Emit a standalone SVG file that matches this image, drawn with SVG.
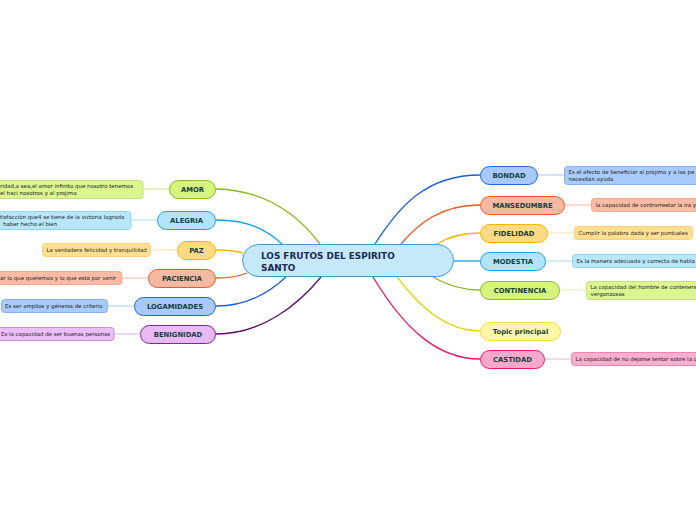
<svg xmlns="http://www.w3.org/2000/svg" width="696" height="520" viewBox="0 0 696 520">
<style>
.n text{font-family:"DejaVu Sans",Verdana,sans-serif;font-weight:bold;font-size:6.8px;fill:#123f3c;text-anchor:middle}
.d text{font-family:"DejaVu Sans",Verdana,sans-serif;font-size:5.45px;fill:#222222}
.c path{fill:none;stroke-width:1.3}
.c line{stroke-width:1}
.lime rect{fill:#d6f27f;stroke:#8cbf1a}
.sky rect{fill:#b2e4f9;stroke:#1aa3e0}
.gold rect{fill:#ffda85;stroke:#f7b500}
.coral rect{fill:#f8b9a3;stroke:#f05a28}
.blue rect{fill:#a7c9fb;stroke:#1f66d8}
.purp rect{fill:#e9b9f6;stroke:#7a2b93}
.pink rect{fill:#f8a9cb;stroke:#e81d6d}
.yel rect{fill:#fff6a8;stroke:#efdd3c}
.n rect{stroke-width:1}
.d rect{stroke-width:0.8}
.lime.d rect{fill:#dbf590;stroke:#b8de5e}
.sky.d rect{fill:#b8e6fa;stroke:#7fcdf0}
.gold.d rect{fill:#ffdf91;stroke:#fbc95a}
.coral.d rect{fill:#f9bba6;stroke:#f39b7d}
.blue.d rect{fill:#a9cbfb;stroke:#74a5ee}
.purp.d rect{fill:#ebbef7;stroke:#b77ccc}
.pink.d rect{fill:#f9afcf;stroke:#ee6fa3}
</style>
<rect width="696" height="520" fill="#ffffff"/>
<g id="connectors" class="c">
<path d="M216,189 C262,190 296,212 320,244" stroke="#84b819"/>
<path d="M216,220 C247,220 266,229 282,244" stroke="#12a1e3"/>
<path d="M216,250 C228,250 236,251 243,253" stroke="#f7b200"/>
<path d="M216,278 C230,278 240,276 247,273" stroke="#f0541e"/>
<path d="M216,306 C248,306 270,292 286,277" stroke="#1a5fd6"/>
<path d="M216,334 C262,334 298,305 321,277" stroke="#5c0f70"/>
<path d="M480,175 C425,175 398,208 375,244" stroke="#1a5fd6"/>
<path d="M480,205 C440,205 418,224 401,244" stroke="#f0541e"/>
<path d="M480,233 C462,233 448,237 437,244" stroke="#f7b200"/>
<path d="M454,261 L480,261" stroke="#12a1e3"/>
<path d="M433,277 C448,286 462,290 480,290" stroke="#84b819"/>
<path d="M397,277 C422,310 448,331 480,331" stroke="#e6d20a"/>
<path d="M373,277 C405,330 438,359 480,359" stroke="#f0106b"/>
<line x1="143" y1="189" x2="169" y2="189" stroke="#c8e58a"/>
<line x1="131" y1="220" x2="157" y2="220" stroke="#a8dcf3"/>
<line x1="151" y1="250" x2="177" y2="250" stroke="#fde2a6"/>
<line x1="122" y1="278" x2="148" y2="278" stroke="#f7b7a1"/>
<line x1="108" y1="306" x2="134" y2="306" stroke="#a9c7f5"/>
<line x1="114" y1="334" x2="140" y2="334" stroke="#d6b0e2"/>
<line x1="538" y1="175" x2="564" y2="175" stroke="#a9c7f5"/>
<line x1="565" y1="205" x2="591" y2="205" stroke="#f7b7a1"/>
<line x1="548" y1="233" x2="574" y2="233" stroke="#fde2a6"/>
<line x1="546" y1="261" x2="572" y2="261" stroke="#a8dcf3"/>
<line x1="560" y1="290" x2="586" y2="290" stroke="#d6edaa"/>
<line x1="545" y1="359" x2="571" y2="359" stroke="#f7b3cf"/>
</g>
<g id="central">
<rect x="242.5" y="244.5" width="211" height="32" rx="16" fill="#c5e9f9" stroke="#3d9bd7" stroke-width="1"/>
<text x="261" y="259" font-family="DejaVu Sans,Verdana,sans-serif" font-weight="bold" font-size="8.9" fill="#1b2a52">LOS FRUTOS DEL ESPIRITO</text>
<text x="261" y="270.5" font-family="DejaVu Sans,Verdana,sans-serif" font-weight="bold" font-size="8.9" fill="#1b2a52">SANTO</text>
</g>
<g id="amor" class="n lime"><rect x="169.5" y="180.5" width="46" height="18" rx="9"/><text x="192.5" y="192">AMOR</text></g>
<g id="alegria" class="n sky"><rect x="157.5" y="211.5" width="58" height="18" rx="9"/><text x="186.5" y="223">ALEGRIA</text></g>
<g id="paz" class="n gold"><rect x="177.5" y="241.5" width="38" height="18" rx="9"/><text x="196.5" y="253">PAZ</text></g>
<g id="paciencia" class="n coral"><rect x="148.5" y="269.5" width="67" height="18" rx="9"/><text x="182" y="281">PACIENCIA</text></g>
<g id="logamidades" class="n blue"><rect x="134.5" y="297.5" width="81" height="18" rx="9"/><text x="175" y="309">LOGAMIDADES</text></g>
<g id="benignidad" class="n purp"><rect x="140.5" y="325.5" width="75" height="18" rx="9"/><text x="178" y="337">BENIGNIDAD</text></g>
<g id="bondad" class="n blue"><rect x="480.5" y="166.5" width="57" height="18" rx="9"/><text x="509" y="178">BONDAD</text></g>
<g id="mansedumbre" class="n coral"><rect x="480.5" y="196.5" width="84" height="18" rx="9"/><text x="522.5" y="208">MANSEDUMBRE</text></g>
<g id="fidelidad" class="n gold"><rect x="480.5" y="224.5" width="67" height="18" rx="9"/><text x="514" y="236">FIDELIDAD</text></g>
<g id="modestia" class="n sky"><rect x="480.5" y="252.5" width="65" height="18" rx="9"/><text x="513" y="264">MODESTIA</text></g>
<g id="continencia" class="n lime"><rect x="480.5" y="281.5" width="79" height="18" rx="9"/><text x="520" y="293">CONTINENCIA</text></g>
<g id="topic" class="n yel"><rect x="480.5" y="322.5" width="80" height="18" rx="9"/><text x="520.5" y="334">Topic principal</text></g>
<g id="castidad" class="n pink"><rect x="480.5" y="350.5" width="64" height="18" rx="9"/><text x="512.5" y="362">CASTIDAD</text></g>
<g id="amor-d" class="d lime"><rect x="-10" y="180.5" width="153" height="18" rx="3"/><text x="0" y="188">ridad,o sea,el amor infinito que nosotro tenemos</text><text x="0" y="195.2">el haci nosotros y al projimo</text></g>
<g id="alegria-d" class="d sky"><rect x="-10" y="211.5" width="141" height="18" rx="3"/><text x="0" y="219">tisfacción que4 se tiene de la victoria lograda</text><text x="3" y="226.2">haber hecho el bien</text></g>
<g id="paz-d" class="d gold"><rect x="42.5" y="243.5" width="108" height="13" rx="3"/><text x="46.5" y="251.9">La verdadera felicidad y tranquilidad</text></g>
<g id="paciencia-d" class="d coral"><rect x="-10" y="271.5" width="132" height="13" rx="3"/><text x="0" y="279.9">ar lo que queremos y lo que esta por venir</text></g>
<g id="logamidades-d" class="d blue"><rect x="1.5" y="299.5" width="106" height="13" rx="3"/><text x="5" y="307.9">Es ser amplios y géneros de criterio</text></g>
<g id="benignidad-d" class="d purp"><rect x="-10" y="327.5" width="124" height="13" rx="3"/><text x="1" y="335.9">Es la capacidad de ser buenas personas</text></g>
<g id="bondad-d" class="d blue"><rect x="564.5" y="166.5" width="150" height="18" rx="3"/><text x="568.5" y="174">Es el afecto de beneficiar al prójimo y a las pe</text><text x="568.5" y="181.2">necesitan ayuda</text></g>
<g id="mansedumbre-d" class="d coral"><rect x="591.5" y="198.5" width="120" height="13" rx="3"/><text x="595.5" y="206.9">la capacidad de contrarrestar la ira y</text></g>
<g id="fidelidad-d" class="d gold"><rect x="574.5" y="226.5" width="118" height="13" rx="3"/><text x="578.5" y="234.9">Cumplir la palabra dada y ser puntuales</text></g>
<g id="modestia-d" class="d sky"><rect x="572.5" y="254.5" width="140" height="13" rx="3"/><text x="576.5" y="262.9">Es la manera adecuada y correcta de habla</text></g>
<g id="continencia-d" class="d lime"><rect x="586.5" y="281.5" width="130" height="18" rx="3"/><text x="590.5" y="289">La capacidad del hombre de contenerse</text><text x="590.5" y="296.2">vergonzosas</text></g>
<g id="castidad-d" class="d pink"><rect x="571.5" y="352.5" width="140" height="13" rx="3"/><text x="575.5" y="360.9">La capacidad de no dejarse tentar sobre la c</text></g>
</svg>
